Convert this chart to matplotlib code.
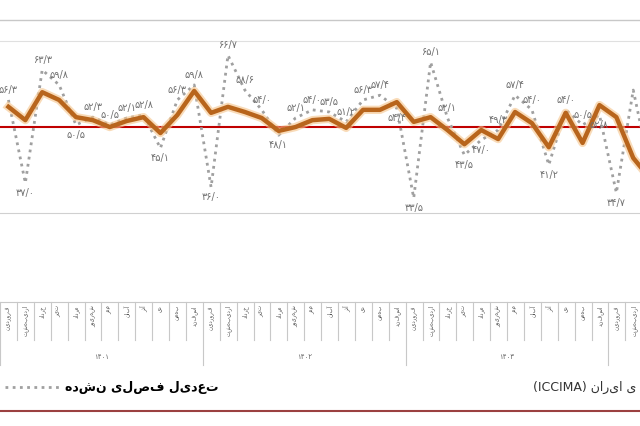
import matplotlib.pyplot as plt

# شاخص مدیران خرید - تعدیل فصلی شده / نشده
adjusted = [54.7, 51.6, 58.1, 56.3, 52.3, 51.6, 50.0, 51.4, 52.3, 48.6, 52.8, 58.4,
            53.3, 54.7, 53.5, 52.1, 49.1, 50.0, 51.6, 51.9, 49.8, 54.0, 54.0, 55.8,
            51.2, 52.3, 49.3, 46.0, 49.3, 47.2, 53.5, 50.9, 45.3, 53.3, 46.3, 55.1,
            52.3, 42.8, 38.0]
unadjusted = [56.3, 37.0, 63.3, 59.8, 50.5, 52.3, 50.5, 52.1, 52.8, 45.1, 56.3, 59.8,
              36.0, 66.7, 58.6, 54.0, 48.1, 52.1, 54.0, 53.5, 51.2, 56.3, 57.4, 54.4,
              33.5, 65.1, 52.1, 43.5, 47.0, 49.3, 57.4, 54.0, 41.2, 54.0, 50.5, 52.8,
              34.7, 58.6, 40.0]
months = ['فروردین', 'اردیبهشت', 'خرداد', 'تیر', 'مرداد', 'شهریور',
          'مهر', 'آبان', 'آذر', 'دی', 'بهمن', 'اسفند']
years = ['۱۴۰۱', '۱۴۰۲', '۱۴۰۳']

fa = str.maketrans('0123456789.', '۰۱۲۳۴۵۶۷۸۹/')
def rtl(s):
    return s[::-1]

fig = plt.figure(figsize=(6.4, 4.26), dpi=100)
ax = fig.add_axes([0, 0.495, 1, 0.458])
x = list(range(len(adjusted)))
ax.axhline(50, color='#c00000', lw=1.5, zorder=2)
ax.axhline(30, color='#d0d0d0', lw=0.8, zorder=1)
ax.axhline(70, color='#e0e0e0', lw=0.8, zorder=1)
ax.plot(x, unadjusted, color='#a0a0a0', lw=2, ls=(0, (1, 1.6)), zorder=3)
ax.plot(x, adjusted, color='#f5c48a', lw=6, alpha=0.6, zorder=4)
ax.plot(x, adjusted, color='#b8651c', lw=3.2, zorder=5)
for i, v in enumerate(unadjusted):
    if i > 36:
        continue
    up = v >= adjusted[i]
    ax.text(i, v + (1.2 if up else -1.2), f'{v:.1f}'.translate(fa), fontsize=7,
            color='#707070', ha='center', va='bottom' if up else 'top', zorder=6)
ax.set_xlim(-0.5, 37.4)
ax.set_ylim(29.5, 74.9)
ax.axis('off')
ax.plot([0, 1], [1, 1], transform=ax.transAxes, color='#c8c8c8', lw=1, clip_on=False)

# جدول ماه ها زیر نمودار
def px(p):
    return (p - 8.5) / 16.9
tab = fig.add_axes([0, 0, 1, 1])
tab.set_xlim(px(0), px(640))
tab.set_ylim(426, 0)
tab.axis('off')
tab.plot([px(0), px(640)], [302, 302], color='#c8c8c8', lw=0.8)
for k in range(40):
    b = k - 0.5
    tab.plot([b, b], [302, 365 if k % 12 == 0 else 340], color='#c8c8c8', lw=0.8)
for k in range(38):
    tab.text(k, 305, rtl(months[k % 12]), rotation=90, fontsize=4, ha='center',
             va='top', color='#555555')
for j, yname in enumerate(years):
    tab.text(12 * j + 5.5, 357, yname, fontsize=5, ha='center', va='center', color='#666666')

tab.plot([px(5), px(60)], [387, 387], color='#a0a0a0', lw=2, ls=(0, (1, 1.6)))
tab.text(px(65), 387, rtl('تعدیل فصلی نشده'), fontsize=9, fontweight='bold', va='center')
tab.text(px(636), 387, '(ICCIMA) ' + rtl('ی ایران'), fontsize=9,
         ha='right', va='center', color='#333333')
tab.plot([px(0), px(640)], [411, 411], color='#9b4040', lw=1.5)

fig.savefig('out.png')
